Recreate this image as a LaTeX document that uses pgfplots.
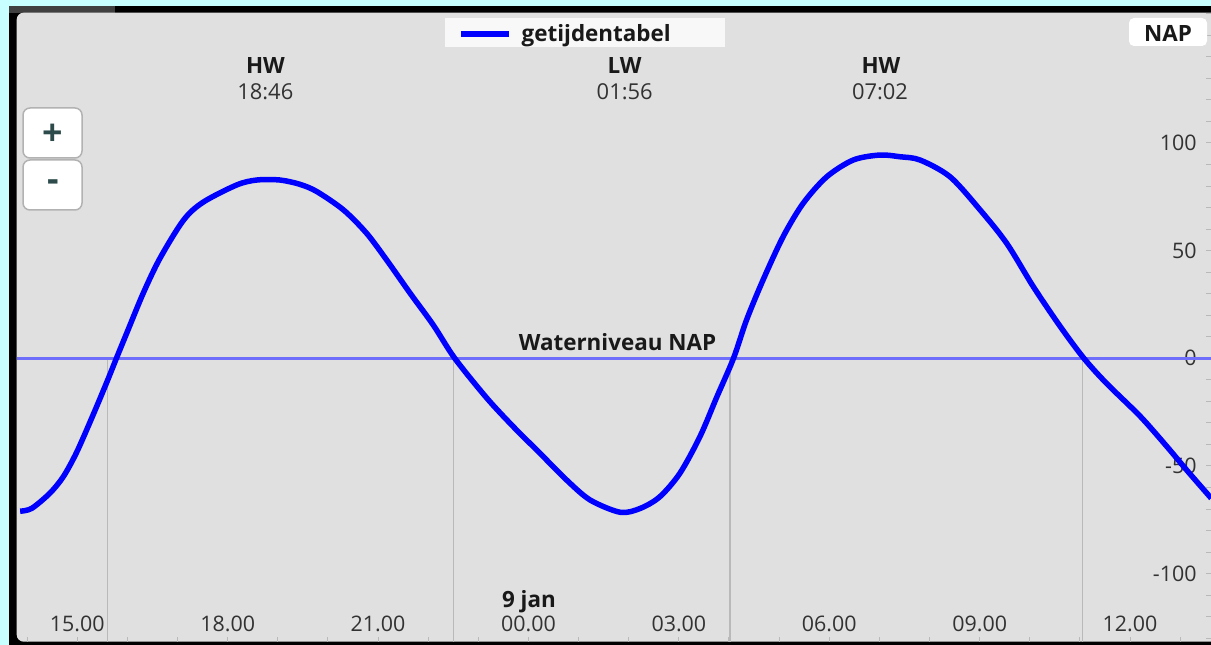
\documentclass[border=0pt]{standalone}
\usepackage{fontspec}
\setmainfont{Open Sans}
\usepackage{pgfplots}
\pgfplotsset{compat=1.18}
\definecolor{bgcyan}{RGB}{200,255,255}
\definecolor{panel}{RGB}{224,224,224}
\definecolor{napline}{RGB}{110,110,250}
\definecolor{vgrid}{RGB}{185,185,185}
\definecolor{ticktext}{RGB}{50,50,50}
\definecolor{btntext}{RGB}{45,75,75}
\definecolor{legfill}{RGB}{248,248,248}
\definecolor{boldtext}{RGB}{25,25,25}

\pgfplotstableread{
h v
13.86 -71.0
14.09 -69.7
14.45 -62.7
14.72 -55.0
14.99 -43.5
15.32 -26.0
15.59 -11.0
15.78 0
16.00 12.5
16.32 30.5
16.65 46.5
17.12 64.2
17.51 72.5
18.18 80.5
18.58 82.8
19.04 82.8
19.44 80.8
19.78 77.4
20.31 68.9
20.77 58.1
21.17 45.7
21.64 30.2
22.10 15.5
22.53 0
23.17 -18.5
23.70 -31.8
24.23 -44.1
24.76 -56.5
25.23 -65.8
25.83 -71.5
26.23 -69.7
26.62 -64.3
27.02 -53.4
27.42 -36.4
27.76 -17.8
28.09 0
28.35 17.8
28.68 36.4
29.08 56.5
29.48 72.0
29.95 84.3
30.48 92.1
31.01 94.4
31.41 93.6
31.81 92.1
32.41 84.3
33.01 68.9
33.54 53.4
34.07 33.3
34.61 14.7
35.08 0
35.53 -11.6
36.21 -27.1
36.74 -41.1
37.13 -51.9
37.62 -65.0
}\tidedata

\begin{document}
\begin{tikzpicture}
\useasboundingbox (0bp,0bp) rectangle (1211bp,645bp);
\begin{scope}[x=1bp,y=1bp]
\fill[bgcyan] (0,0) rectangle (1211,645);
\fill[black] (9,0) rectangle (1211,639);
\fill[black!75] (9,632.3) rectangle (115,639);
\fill[panel, rounded corners=7bp] (1211,3.3) -- (16.7,3.3) -- (16.7,632.3) -- (1211,632.3);
\end{scope}

\begin{axis}[
  at={(16.7bp,3.3bp)}, anchor=south west,
  width=1194.3bp, height=629bp, scale only axis,
  xmin=13.791, xmax=37.615, ymin=-131.6, ymax=160.5,
  axis line style={draw=none},
  xtick={15,18,21,24,27,30,33,36},
  xticklabels={15.00,18.00,21.00,00.00,03.00,06.00,09.00,12.00},
  minor xtick={14,15,...,37},
  ytick={-100,-50,0,50,100},
  yticklabels={-100,-50,0,50,100},
  minor ytick={-130,-120,...,160},
  xtick pos=left, ytick pos=right,
  xticklabel pos=left, yticklabel pos=right,
  tick align=inside,
  major tick length=5bp, minor tick length=5bp,
  tick style={draw=vgrid, line width=1bp},
  xticklabel style={anchor=base, yshift=10.3bp, inner sep=0pt, font=\fontsize{21.5}{25}\selectfont, text=ticktext},
  yticklabel style={anchor=east, xshift=-14.3bp, inner sep=0pt, font=\fontsize{21.5}{25}\selectfont, text=ticktext},
  legend style={at={(axis description cs:0.35862,0.99110)}, anchor=north west, draw=none, fill=legfill,
    inner sep=0pt, outer sep=0pt, column sep=0pt, row sep=0pt,
    nodes={inner sep=0pt, outer sep=0pt, text=boldtext, font=\fontsize{22.5}{26}\selectfont\bfseries}},
  legend image code/.code={\path[draw=none, fill=none] (-16bp,-12.7bp) rectangle (60.7bp,15.7bp); \draw[line width=6bp, blue] (0bp,0bp) -- (48bp,0bp);},
]
\addplot[vgrid, line width=1.5bp, forget plot] coordinates {(15.607,0) (15.607,-131.6)};
\addplot[vgrid, line width=1.5bp, forget plot] coordinates {(22.50,0) (22.50,-131.6)};
\addplot[vgrid, line width=1.5bp, forget plot] coordinates {(28.02,0) (28.02,-131.6)};
\addplot[vgrid, line width=1.5bp, forget plot] coordinates {(35.056,0) (35.056,-131.6)};
\addplot[napline, line width=2.5bp, forget plot] coordinates {(13.791,0) (37.615,0)};
\addplot[blue, line width=5.5bp, smooth, tension=0.5] table[x=h, y=v] {\tidedata};
\addlegendentry{\makebox[203.3bp][l]{getijdentabel}}
\end{axis}

\begin{scope}[x=1bp,y=1bp, every node/.style={inner sep=0pt, outer sep=0pt}]
\node[anchor=base, font=\fontsize{22.5}{26}\selectfont\bfseries, text=boldtext] at (265.5,571) {HW};
\node[anchor=base, font=\fontsize{22}{26}\selectfont, text=ticktext] at (265.3,545) {18:46};
\node[anchor=base, font=\fontsize{22.5}{26}\selectfont\bfseries, text=boldtext] at (624.5,571) {LW};
\node[anchor=base, font=\fontsize{22}{26}\selectfont, text=ticktext] at (624.7,545) {01:56};
\node[anchor=base, font=\fontsize{22.5}{26}\selectfont\bfseries, text=boldtext] at (881,571) {HW};
\node[anchor=base, font=\fontsize{22}{26}\selectfont, text=ticktext] at (880,545) {07:02};
\node[anchor=base, font=\fontsize{22.5}{26}\selectfont\bfseries, text=boldtext] at (617.5,294.3) {Waterniveau NAP};
\node[anchor=base, font=\fontsize{22.5}{26}\selectfont\bfseries, text=boldtext] at (529,37.5) {9 jan};
\fill[white, rounded corners=5bp] (1129,599) rectangle (1207,627);
\node[anchor=base, font=\fontsize{22.5}{26}\selectfont\bfseries, text=boldtext] at (1168,603.3) {NAP};
\filldraw[fill=white, draw=black!30, line width=1.5bp, rounded corners=7bp] (23,487) rectangle (82,537);
\filldraw[fill=white, draw=black!30, line width=1.5bp, rounded corners=7bp] (23,435) rectangle (82,485);
\node[font=\fontsize{36}{38}\selectfont\bfseries, text=btntext] at (53,510) {+};
\node[font=\fontsize{36}{38}\selectfont\bfseries, text=btntext] at (53,459) {-};
\end{scope}
\end{tikzpicture}
\end{document}
